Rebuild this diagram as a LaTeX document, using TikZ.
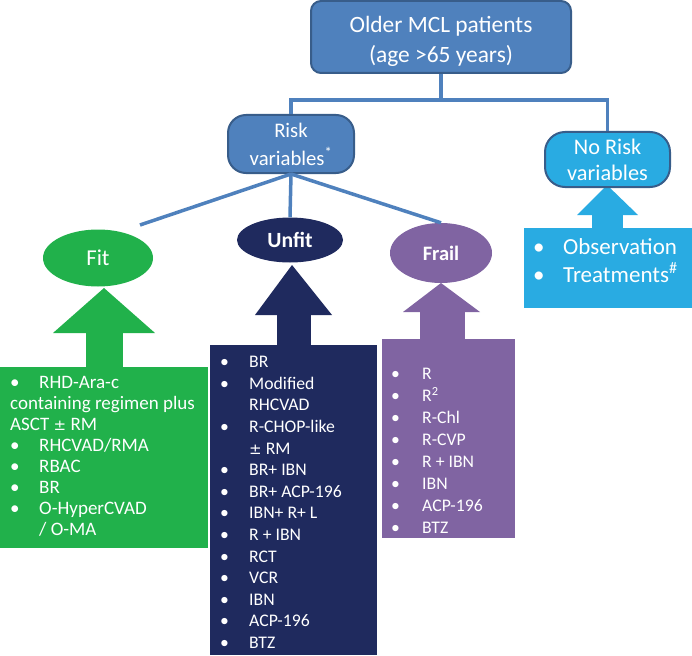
\documentclass[tikz,border=0pt]{standalone}
\usepackage{fontspec}
\setmainfont{Carlito}
\newfontfamily\pmfont{DejaVu Sans}
\usetikzlibrary{shapes.geometric}
\definecolor{steel}{HTML}{4F81BD}
\definecolor{steeldark}{HTML}{385D8A}
\definecolor{lblue}{HTML}{29ABE2}
\definecolor{fitgreen}{HTML}{21B14B}
\definecolor{navy}{HTML}{1F2A5E}
\definecolor{frailpurple}{HTML}{8064A2}
\tikzset{
  topbox/.style={draw=steeldark, line width=2pt, fill=steel, text=white, align=center, inner sep=0pt},
  oval/.style={ellipse, inner sep=0pt, text=white},
  conn/.style={draw=steel, line width=3.5pt},
  listtext/.style={anchor=base west, inner sep=0pt, text=white},
}
\newcommand{\pmsign}{{\pmfont\fontsize{15}{15}\selectfont ±}}
\begin{document}
\begin{tikzpicture}[x=1pt,y=-1pt]
\useasboundingbox (0,0) rectangle (692,655);
% arrows and boxes
\fill[fitgreen] (53,333) -- (104,288) -- (155,333) -- cycle;
\fill[fitgreen] (86,332) rectangle (123,368);
\fill[fitgreen] (0,367) rectangle (208,548);
\fill[navy] (255,315) -- (292,265) -- (332,315) -- cycle;
\fill[navy] (277,314) rectangle (311,346);
\fill[navy] (210,345) rectangle (377,655);
\fill[frailpurple] (403,312) -- (441,283) -- (480,312) -- cycle;
\fill[frailpurple] (420,311) rectangle (465,340);
\fill[frailpurple] (382,339) rectangle (515,538);
\fill[lblue] (577,215) -- (607,185) -- (638,215) -- cycle;
\fill[lblue] (592,214) rectangle (623,229);
\fill[lblue] (524,228) rectangle (692,308);
% top nodes
\node[topbox, rounded corners=10pt, minimum width=260pt, minimum height=72pt] (top) at (441,37) {};
\node[text=white, align=center, inner sep=0pt, font=\fontsize{23.4}{30}\selectfont] (toptext) at (441,41) {Older MCL patients\\(age >65 years)};
\node[topbox, rounded corners=18pt, minimum width=126pt, minimum height=58pt, font=\fontsize{20.7}{28}\selectfont] (risk) at (291,144) {Risk\\variables\textsuperscript{*}};
\node[topbox, fill=lblue, rounded corners=20pt, minimum width=125pt, minimum height=55pt, font=\fontsize{22.3}{26}\selectfont] (norisk) at (607.5,159.5) {No Risk\\variables};
% connectors
\coordinate (j) at (441,100);
\coordinate (fitin) at (140,225);
\draw[conn] (top.south) -- (j);
\draw[conn] (risk.north) |- (j) -| (norisk.north);
% ovals
\node[oval, fill=fitgreen, minimum width=110pt, minimum height=57pt, font=\fontsize{22.7}{26}\selectfont] (fit) at (98,258) {Fit};
\node[oval, fill=navy, minimum width=106pt, minimum height=45pt, font=\fontsize{21.7}{26}\selectfont\bfseries] (unfit) at (290,240) {Unfit};
\node[oval, fill=frailpurple, minimum width=102pt, minimum height=60pt, font=\fontsize{20.5}{26}\selectfont\bfseries] (frail) at (441,253) {Frail};
\draw[conn] (risk.south) -- (fitin);
\draw[conn] (risk.south) -- (unfit.north);
\draw[conn] (risk.south) -- (frail.north);
% lists
\node[listtext, font=\fontsize{19}{21}\selectfont] (fitlist) at (10,388) {\begin{tabular}[t]{@{}p{29pt}@{}l@{}}
• & RHD-Ara-c\\
\multicolumn{2}{@{}l@{}}{containing regimen plus}\\
\multicolumn{2}{@{}l@{}}{ASCT \pmsign\ RM}\\
• & RHCVAD/RMA\\
• & RBAC\\
• & BR\\
• & O-HyperCVAD\\
 & / O-MA
\end{tabular}};
\node[listtext, font=\fontsize{17.7}{21.6}\selectfont] (unfitlist) at (220,367.7) {\begin{tabular}[t]{@{}p{29pt}@{}l@{}}
• & BR\\
• & Modified\\
 & RHCVAD\\
• & R-CHOP-like\\
 & \pmsign\ RM\\
• & BR+ IBN\\
• & BR+ ACP-196\\
• & IBN+ R+ L\\
• & R + IBN\\
• & RCT\\
• & VCR\\
• & IBN\\
• & ACP-196\\
• & BTZ
\end{tabular}};
\node[listtext, font=\fontsize{17.7}{21.9}\selectfont] (fraillist) at (391,379.7) {\begin{tabular}[t]{@{}p{31pt}@{}l@{}}
• & R\\
• & R\textsuperscript{2}\\
• & R-Chl\\
• & R-CVP\\
• & R + IBN\\
• & IBN\\
• & ACP-196\\
• & BTZ
\end{tabular}};
\node[listtext, font=\fontsize{23}{28}\selectfont] (norisklist) at (533,254.4) {\begin{tabular}[t]{@{}p{30pt}@{}l@{}}
• & Observation\\
• & Treatments\textsuperscript{\#}
\end{tabular}};
\end{tikzpicture}
\end{document}
